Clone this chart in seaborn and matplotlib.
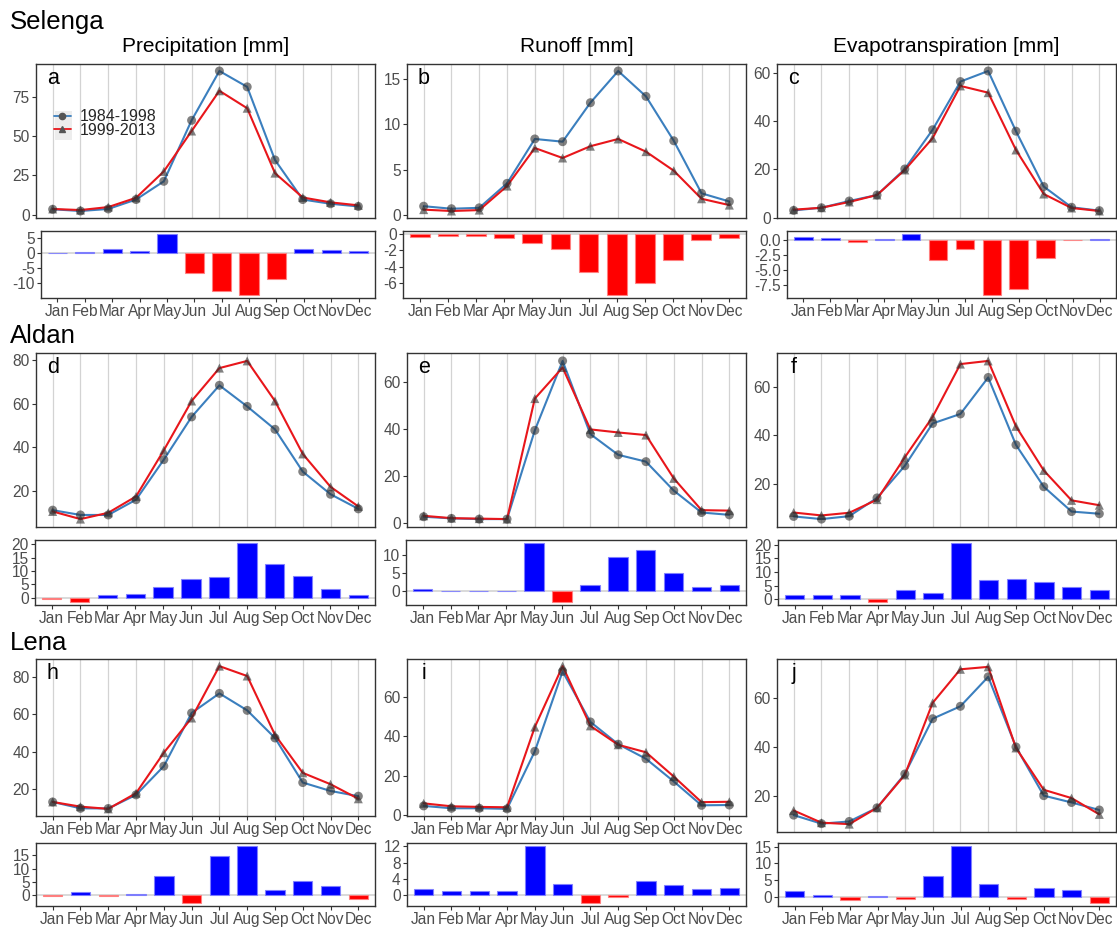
import numpy as np
import pandas as pd
import matplotlib
matplotlib.use("Agg")
import matplotlib.pyplot as plt
from matplotlib.lines import Line2D
from matplotlib.patches import Rectangle
import seaborn as sns

# ---------------- data ----------------
months = ["Jan", "Feb", "Mar", "Apr", "May", "Jun", "Jul", "Aug", "Sep", "Oct", "Nov", "Dec"]
periods = ["1984-1998", "1999-2013"]
basins = ["Selenga", "Aldan", "Lena"]
variables = ["Precipitation [mm]", "Runoff [mm]", "Evapotranspiration [mm]"]
panel_letters = ["a", "b", "c", "d", "e", "f", "h", "i", "j"]

# Selenga
sel_p_early = [3.4, 2.3, 3.6, 9.6, 21.2, 60.0, 91.4, 81.3, 34.8, 9.6, 6.9, 5.2]
sel_p_late = [3.6, 2.9, 4.8, 10.7, 27.5, 53.2, 78.8, 67.7, 26.4, 10.9, 7.8, 5.9]
sel_p_diff = [0.1, 0.2, 1.2, 0.5, 6.2, -6.8, -12.5, -13.9, -8.5, 1.2, 0.9, 0.65]
sel_r_early = [0.98, 0.7, 0.8, 3.5, 8.4, 8.1, 12.4, 15.9, 13.1, 8.2, 2.4, 1.5]
sel_r_late = [0.6, 0.45, 0.55, 3.2, 7.4, 6.3, 7.6, 8.4, 7.0, 4.9, 1.8, 1.1]
sel_r_diff = [-0.4, -0.28, -0.28, -0.44, -1.04, -1.8, -4.64, -7.44, -6.04, -3.2, -0.68, -0.44]
sel_e_early = [3.0, 4.1, 6.9, 9.4, 20.2, 36.5, 56.5, 60.9, 35.9, 12.9, 4.3, 2.9]
sel_e_late = [3.3, 4.1, 6.5, 9.4, 19.8, 33.0, 54.7, 51.9, 28.1, 9.8, 4.0, 2.75]
sel_e_diff = [0.38, 0.2, -0.38, 0.05, 0.92, -3.42, -1.63, -9.13, -8.15, -3.1, -0.05, 0.1]

# Aldan
ald_p_early = [11.1, 8.9, 8.9, 15.9, 34.3, 53.9, 68.4, 58.7, 48.2, 28.8, 18.4, 11.7]
ald_p_late = [10.5, 7.0, 9.9, 17.4, 38.6, 61.2, 76.3, 79.6, 61.2, 36.9, 21.8, 12.8]
ald_p_diff = [-0.6, -1.7, 1.1, 1.4, 4.1, 6.8, 7.6, 20.5, 12.7, 8.1, 3.2, 0.9]
ald_r_early = [2.8, 2.1, 1.8, 1.8, 39.5, 69.0, 37.9, 29.1, 26.2, 13.9, 4.6, 3.6]
ald_r_late = [3.2, 2.2, 2.0, 1.8, 53.0, 66.2, 39.9, 38.6, 37.5, 19.1, 5.6, 5.4]
ald_r_diff = [0.46, 0.1, 0.0, 0.0, 13.5, -3.1, 1.74, 9.45, 11.4, 5.1, 1.2, 1.74]
ald_e_early = [6.7, 5.6, 6.8, 14.3, 27.5, 44.9, 48.8, 63.8, 36.1, 18.9, 8.7, 7.8]
ald_e_late = [8.3, 7.1, 8.2, 13.6, 31.0, 47.6, 69.3, 70.6, 43.7, 25.6, 13.3, 11.3]
ald_e_diff = [1.6, 1.35, 1.5, -1.1, 3.3, 2.4, 20.7, 7.0, 7.4, 6.3, 4.5, 3.3]

# Lena
len_p_early = [13.0, 9.6, 9.5, 16.8, 32.2, 60.7, 71.2, 62.1, 47.3, 23.4, 18.9, 16.1]
len_p_late = [13.0, 10.5, 9.3, 17.7, 39.4, 58.0, 85.8, 80.5, 49.0, 28.6, 22.5, 14.7]
len_p_diff = [-0.05, 1.3, -0.3, 0.7, 7.1, -2.9, 14.8, 18.6, 2.0, 5.3, 3.5, -1.4]
len_r_early = [4.7, 3.5, 3.5, 3.2, 32.4, 72.9, 47.3, 36.0, 28.6, 17.1, 5.0, 5.15]
len_r_late = [6.0, 4.5, 4.2, 4.0, 44.7, 75.6, 45.3, 35.7, 31.9, 19.6, 6.6, 6.8]
len_r_diff = [1.4, 0.95, 0.95, 0.95, 12.1, 2.8, -1.96, -0.4, 3.5, 2.6, 1.6, 1.65]
len_e_early = [12.0, 8.5, 9.4, 15.0, 28.9, 51.6, 56.7, 68.8, 40.0, 20.0, 17.2, 14.1]
len_e_late = [13.9, 8.9, 8.3, 15.0, 28.5, 58.1, 71.9, 72.9, 39.6, 22.4, 19.0, 12.3]
len_e_diff = [1.7, 0.6, -1.0, 0.1, -0.7, 6.1, 15.2, 3.9, -0.8, 2.7, 1.9, -1.9]

# y tick labels for (line panel, bar panel) per panel
line_ticks = [
    [0, 25, 50, 75], [0, 5, 10, 15], [0, 20, 40, 60],
    [20, 40, 60, 80], [0, 20, 40, 60], [20, 40, 60],
    [20, 40, 60, 80], [0, 20, 40, 60], [20, 40, 60],
]
bar_ticks = [
    [-10, -5, 0, 5], [-6, -4, -2, 0], [-7.5, -5.0, -2.5, 0.0],
    [0, 5, 10, 15, 20], [0, 5, 10], [0, 5, 10, 15, 20],
    [0, 5, 10, 15], [0, 4, 8, 12], [0, 5, 10, 15],
]
bar_tick_fmt = ["{:g}", "{:g}", "{:.1f}", "{:g}", "{:g}", "{:g}", "{:g}", "{:g}", "{:g}"]

series = [
    (sel_p_early, sel_p_late, sel_p_diff), (sel_r_early, sel_r_late, sel_r_diff), (sel_e_early, sel_e_late, sel_e_diff),
    (ald_p_early, ald_p_late, ald_p_diff), (ald_r_early, ald_r_late, ald_r_diff), (ald_e_early, ald_e_late, ald_e_diff),
    (len_p_early, len_p_late, len_p_diff), (len_r_early, len_r_late, len_r_diff), (len_e_early, len_e_late, len_e_diff),
]

# ---------------- style ----------------
sns.set_theme(style="white")
plt.rcParams["font.family"] = ["Liberation Sans", "DejaVu Sans"]
plt.rcParams["axes.unicode_minus"] = False

BLUE_LINE = "#3B7FBE"
RED_LINE = "#E8161B"
BAR_POS = "#0000FF"
BAR_NEG = "#FF0000"
TICK_COL = "#4D4D4D"
BORDER = "#333333"
GRID = "#D3D3D3"
TICK_FS = 11.2

W, H = 1117, 930
fig = plt.figure(figsize=(W / 100, H / 100), dpi=100)


def add_ax(l, t, r, b):
    return fig.add_axes([l / W, 1 - b / H, (r - l) / W, (b - t) / H])


# pixel boxes (left, top, right, bottom)
col_right = [375, 746, 1116]
line_left = [36, 407, 777]
line_rows = [(64, 218), (353, 527), (659, 816)]
bar_rows = [(231, 298), (540, 605), (843, 906)]
bar_lefts = [[41, 403, 787], [35, 406, 778], [36, 407, 778]]


def style_axis(ax):
    for s in ax.spines.values():
        s.set_color(BORDER)
        s.set_linewidth(1.0)
        s.set_visible(True)
    ax.tick_params(axis="both", colors=BORDER, labelcolor=TICK_COL, labelsize=TICK_FS,
                   length=3, width=0.8, pad=1.5, left=True, bottom=True)
    ax.set_xlabel("")
    ax.set_ylabel("")
    ax.set_facecolor("white")


for k in range(9):
    r, c = divmod(k, 3)
    early, late, diff = series[k]

    # ---- line panel ----
    t, b = line_rows[r]
    if r == 2 and c == 2:
        b = 832
    ax = add_ax(line_left[c], t, col_right[c], b)
    df = pd.DataFrame({
        "month": months * 2,
        "value": list(early) + list(late),
        "period": [periods[0]] * 12 + [periods[1]] * 12,
    })
    for mi, m in enumerate(months):
        ax.axvline(mi, color=GRID, lw=0.9, zorder=0)
    sns.lineplot(data=df, x="month", y="value", hue="period", hue_order=periods,
                 palette=[BLUE_LINE, RED_LINE], sort=False, legend=False,
                 lw=1.5, ax=ax, zorder=3)
    sns.scatterplot(data=df, x="month", y="value", style="period", style_order=periods,
                    markers={periods[0]: "o", periods[1]: "^"}, color="#2E2E2E",
                    alpha=0.6, s=42, linewidth=0, legend=False, ax=ax, zorder=4)
    ax.set_xlim(-0.6, 11.6)
    ax.margins(y=0.05)
    ax.set_yticks(line_ticks[k])
    ax.set_yticklabels([f"{v:g}" for v in line_ticks[k]])
    ax.set_xticks(range(12))
    if r == 2 and c < 2:
        ax.set_xticklabels(months)
    else:
        ax.set_xticklabels([])
    style_axis(ax)
    if not (r == 2 and c < 2):
        ax.tick_params(axis="x", length=0)
    ax.text(0, 0.975, panel_letters[k], transform=ax.get_xaxis_transform(),
            ha="center", va="top", fontsize=15.5, color="black")

    if k == 0:
        # light key background like ggplot legend keys
        ax.add_patch(Rectangle((0.057, 0.505), 0.05, 0.19, transform=ax.transAxes,
                               facecolor="#EDEDED", edgecolor="none", zorder=5))
        handles = [
            Line2D([], [], color=BLUE_LINE, lw=1.3, marker="o", markersize=4.5,
                   markerfacecolor="#555555", markeredgecolor="#555555"),
            Line2D([], [], color=RED_LINE, lw=1.3, marker="^", markersize=4.5,
                   markerfacecolor="#555555", markeredgecolor="#555555"),
        ]
        leg = ax.legend(handles, periods, loc="upper left", bbox_to_anchor=(0.052, 0.705),
                        frameon=False, fontsize=11.5, handlelength=1.1, handletextpad=0.55,
                        labelspacing=-0.12, borderpad=0.0, borderaxespad=0)
        leg.set_zorder(6)

    # ---- bar panel ----
    t, b = bar_rows[r]
    bx = add_ax(bar_lefts[r][c], t, col_right[c], b)
    bdf = pd.DataFrame({
        "month": months,
        "diff": diff,
        "sign": ["pos" if v >= 0 else "neg" for v in diff],
    })
    bx.axhline(0, color="#D9D9D9", lw=1.4, zorder=0)
    sns.barplot(data=bdf, x="month", y="diff", hue="sign", order=months,
                hue_order=["pos", "neg"], palette={"pos": BAR_POS, "neg": BAR_NEG},
                saturation=1, dodge=False, width=0.7, legend=False, ax=bx, zorder=2)
    for p in bx.patches:
        fc = p.get_facecolor()
        p.set_edgecolor((min(1, fc[0] + 0.5), min(1, fc[1] + 0.5), min(1, fc[2] + 0.5), 0.9))
        p.set_linewidth(0.8)
    bx.set_xlim(-0.6, 11.6)
    lo = min(0.0, min(diff))
    hi = max(0.0, max(diff))
    pad = 0.05 * (hi - lo)
    bx.set_ylim(lo - pad, hi + pad)
    bx.set_yticks(bar_ticks[k])
    bx.set_yticklabels([bar_tick_fmt[k].format(v) for v in bar_ticks[k]])
    bx.set_xticks(range(12))
    bx.set_xticklabels(months)
    style_axis(bx)
    bx.grid(False)

# ---------------- titles ----------------
row_title_y = [22, 336, 643]
for name, y in zip(basins, row_title_y):
    fig.text(10 / W, 1 - y / H, name, ha="left", va="center", fontsize=18.5, color="black")
for c, var in enumerate(variables):
    cx = (line_left[c] + col_right[c]) / 2
    fig.text(cx / W, 1 - 47 / H, var, ha="center", va="center", fontsize=15, color="black")

fig.savefig("out.png", dpi=100, facecolor="white")
